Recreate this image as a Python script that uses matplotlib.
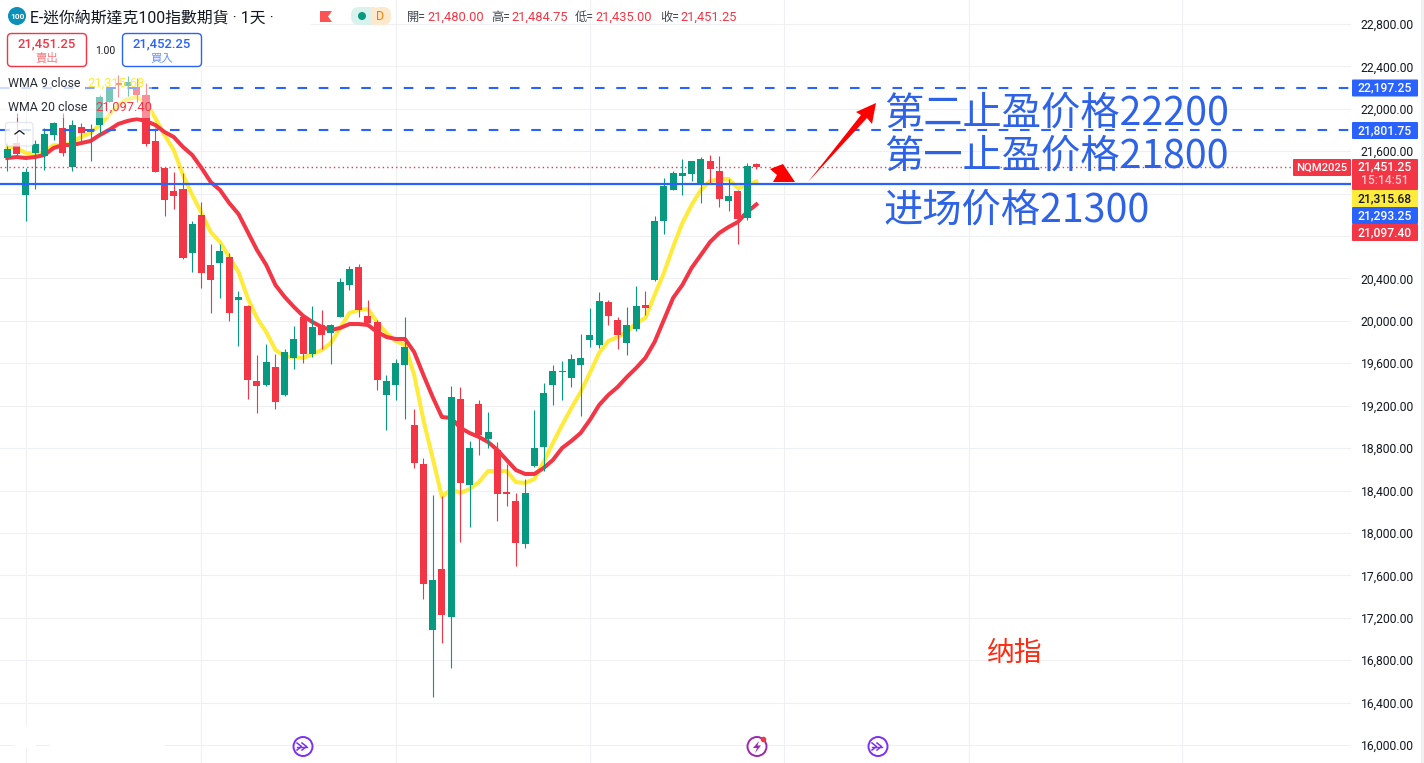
import matplotlib
matplotlib.use('Agg')
import numpy as np
import matplotlib.pyplot as plt
from matplotlib.patches import Rectangle, FancyBboxPatch, Circle, Polygon

plt.rcParams['font.family'] = ['Roboto', 'Noto Sans CJK TC', 'DejaVu Sans']

# OHLC diario
opens = [21536, 21677, 21187, 21583, 21555, 21753, 21819, 21451, 21828, 21781, 21847, 22064,
         22243, 22215, 22205, 22130, 21696, 21442, 21225, 21244, 20640, 21000, 20527, 20546,
         20602, 20197, 20140, 19433, 19395, 19565, 19301, 19650, 20036, 19687, 19961, 19885,
         20036, 20338, 20508, 20046, 19989, 19301, 19395, 19584, 19018, 18650, 17084, 17660,
         17207, 19263, 18452, 19216, 18886, 18782, 18386, 18301, 17896, 18631, 18810, 19395,
         19518, 19461, 19584, 19819, 19772, 20178, 20008, 19791, 19923, 20150, 20385, 20942,
         21234, 21366, 21385, 21291, 21508, 21413, 21130, 21225, 20970, 21480]
highs = [21677, 21960, 21442, 21706, 21819, 21875, 21960, 21894, 21866, 21857, 22130, 22205,
         22319, 22309, 22290, 22243, 21819, 21442, 21404, 21394, 20942, 21121, 20725, 20725,
         20640, 20282, 20150, 19678, 19782, 19687, 19735, 19951, 20046, 20140, 20102, 19970,
         20404, 20517, 20536, 20197, 20008, 19489, 19640, 20036, 19169, 18706, 18358, 18348,
         19386, 19376, 18867, 19254, 19140, 18857, 18650, 18376, 18509, 19159, 19414, 19584,
         19621, 19687, 19876, 20121, 20272, 20197, 20036, 20131, 20329, 20282, 20989, 21347,
         21413, 21526, 21508, 21545, 21564, 21555, 21338, 21234, 21489, 21484.75]
lows = [21413, 21545, 20942, 21244, 21423, 21706, 21555, 21413, 21687, 21508, 21762, 22064,
        22111, 22121, 22064, 21649, 21404, 20989, 21055, 20583, 20461, 20310, 20074, 20216,
        19999, 19763, 19263, 19131, 19386, 19169, 19291, 19546, 19603, 19659, 19735, 19593,
        20036, 20291, 20036, 19980, 19348, 18971, 19254, 19074, 18612, 17377, 16453, 16962,
        16726, 17914, 18056, 18735, 18801, 18112, 18254, 17688, 17858, 18622, 18584, 19206,
        19254, 19376, 19103, 19754, 19744, 19961, 19735, 19678, 19904, 20055, 20376, 20819,
        21234, 21187, 21319, 21111, 21291, 21074, 21036, 20725, 20951, 21435]
closes = [21621, 21574, 21404, 21668, 21762, 21866, 21583, 21847, 21772, 21809, 22111, 22196,
          22224, 22253, 22130, 21668, 21404, 21140, 21177, 20593, 20913, 20451, 20385, 20659,
          20074, 20225, 19442, 19386, 19612, 19235, 19706, 19829, 19687, 19942, 19867, 19961,
          20366, 20489, 20102, 19980, 19442, 19433, 19603, 19753, 18659, 17518, 17556, 17226,
          19282, 18471, 18801, 18923, 18952, 18367, 18367, 17905, 18376, 18801, 19320, 19527,
          19527, 19640, 19650, 19867, 20187, 20046, 19867, 19961, 20140, 20121, 20942, 21272,
          21394, 21394, 21508, 21526, 21432, 21149, 21177, 20961, 21460, 21451.25]

wma9 = [21640, 21630, 21583, 21574, 21592, 21658, 21649, 21687, 21734, 21772, 21847, 21941,
        22036, 22092, 22111, 22055, 21913, 21753, 21611, 21376, 21187, 21017, 20838, 20744,
        20602, 20461, 20216, 20027, 19895, 19725, 19669, 19659, 19650, 19687, 19725, 19791,
        19933, 20074, 20102, 20112, 19989, 19885, 19810, 19772, 19489, 19065, 18706, 18339,
        18414, 18376, 18414, 18480, 18584, 18584, 18584, 18480, 18471, 18508, 18669, 18848,
        19018, 19178, 19329, 19508, 19697, 19810, 19848, 19895, 19980, 20027, 20244, 20451,
        20697, 20923, 21093, 21234, 21319, 21338, 21338, 21253, 21281, 21315.68]
wma20 = [21536, 21545, 21536, 21545, 21564, 21630, 21658, 21658, 21677, 21696, 21753, 21800,
         21857, 21885, 21904, 21885, 21847, 21781, 21734, 21640, 21564, 21442, 21309, 21234,
         21111, 21008, 20838, 20668, 20527, 20338, 20225, 20131, 20046, 19989, 19942, 19914,
         19933, 19970, 19970, 19961, 19895, 19848, 19829, 19829, 19706, 19489, 19282, 19093,
         19084, 18990, 18942, 18905, 18857, 18782, 18688, 18593, 18556, 18556, 18612, 18688,
         18801, 18867, 18942, 19065, 19206, 19301, 19376, 19470, 19555, 19650, 19801, 20008,
         20216, 20338, 20499, 20621, 20744, 20829, 20885, 20932, 21027, 21097.40]

price_ticks = list(range(16000, 23200, 400))
hidden_ticks = [20800, 21200]
date_ticks = [2, 21, 42, 63, 84, 104, 127]

last_price = 21451.25
entry_price = 21293.25
stop1_price = 21801.75
stop2_price = 22197.25

GREEN = '#089981'
RED = '#f23645'
BLUE = '#2962ff'
YELLOW = '#ffeb3b'
GRID = '#eff0f3'
TEXT = '#131722'
W, H = 1424, 763

fig = plt.figure(figsize=(W / 100, H / 100), dpi=100, facecolor='white')
ax = fig.add_axes([0, 0, 1351 / W, 1])
ax.set_xlim(-0.79, -0.79 + 1351 / 9.247)
ax.set_ylim(15830, 23026)

idx = np.arange(len(opens))
o = np.array(opens, dtype=float)
c = np.array(closes, dtype=float)
colors = [GREEN if b >= a else RED for a, b in zip(opens, closes)]

ax.plot(idx, wma9, color=YELLOW, lw=2.9, zorder=2, solid_joinstyle='round')
ax.plot(idx, wma20, color=RED, lw=2.9, zorder=2.1, solid_joinstyle='round')
ax.vlines(idx, lows, highs, colors=colors, linewidth=0.8, zorder=3)
ax.bar(idx, np.abs(c - o), bottom=np.minimum(o, c), width=0.76, color=colors,
       linewidth=0, zorder=3.1, antialiased=False)

ax.axhline(last_price, color=RED, lw=1.0, ls=(0, (1, 2.2)), zorder=3.5)
ax.axhline(entry_price, color=BLUE, lw=1.6, zorder=4)
for p in [stop1_price, stop2_price]:
    ax.axhline(p, color=BLUE, lw=1.5, ls=(0, (4.6, 5.6)), zorder=4)

ax.set_yticks(price_ticks)
ax.set_yticklabels(['' if p in hidden_ticks else f'{p:,.2f}' for p in price_ticks])
ax.set_xticks(date_ticks)
ax.set_xticklabels([])
ax.yaxis.tick_right()
ax.tick_params(axis='y', length=0, pad=7, labelsize=8.7, labelcolor=TEXT)
ax.tick_params(axis='x', length=0)
ax.grid(True, color=GRID, lw=0.8)
ax.set_axisbelow(True)
for s in ax.spines.values():
    s.set_visible(False)

# capa de interfaz en pixeles
ui = fig.add_axes([0, 0, 1, 1], facecolor='none')
ui.set_xlim(0, W)
ui.set_ylim(H, 0)
ui.axis('off')


def box(x0, y0, x1, y1, fc, ec='none', r=2, lw=1.0, alpha=None, z=5):
    ui.add_patch(FancyBboxPatch((x0, y0), x1 - x0, y1 - y0,
                                boxstyle=f'round,pad=0,rounding_size={r}',
                                fc=fc, ec=ec, lw=lw, alpha=alpha, zorder=z))


# fondo de cabecera y atenuado de la leyenda
ui.add_patch(Rectangle((0, 0), 311, 30, fc='white', ec='none', zorder=1))
ui.add_patch(Rectangle((0, 30), 205, 40, fc='white', ec='none', zorder=1))
ui.add_patch(Rectangle((0, 72), 152, 46, fc='white', ec='none', alpha=0.45, zorder=1))
ui.add_patch(Rectangle((0, 76), 80, 16, fc='white', ec='none', alpha=0.6, zorder=1))
ui.add_patch(Rectangle((15, 726), 21, 22, fc='white', ec='none', zorder=1))
ui.add_patch(Rectangle((50, 743), 115, 5, fc='white', ec='none', zorder=1))
ui.add_patch(Rectangle((1421, 0), 3, H, fc='#f0f1f3', ec='none', zorder=1))

# cabecera
ui.add_patch(Circle((17, 16), 9, fc='#0c8fb8', ec='none', zorder=5))
ui.text(17, 16.5, '100', color='white', fontsize=6, fontweight='bold', ha='center', va='center', zorder=6)
ui.text(30, 18, 'E-迷你納斯達克100指數期貨 · 1天 ·', color=TEXT, fontsize=11.4, va='center', zorder=6)
ui.add_patch(Polygon([(320, 11), (332, 11), (328, 16.5), (332, 22), (320, 22)], fc='#ff5252', ec='none', zorder=5))
box(351, 7, 376, 25, '#daf2ed', r=8)
box(372, 7, 391, 25, '#ffe8cc', r=8)
ui.add_patch(Rectangle((371, 7), 4, 18, fc='#ffe8cc', ec='none', zorder=5))
ui.add_patch(Circle((362, 16), 4, fc=GREEN, ec='none', zorder=6))
ui.text(380, 16.5, 'D', color='#f57c00', fontsize=9, ha='center', va='center', zorder=6)

ohlc_x = [407, 491, 575, 660]
ohlc_names = ['開=', '高=', '低=', '收=']
ohlc_vals = ['21,480.00', '21,484.75', '21,435.00', '21,451.25']
for x, n, v in zip(ohlc_x, ohlc_names, ohlc_vals):
    ui.text(x, 17, n, color='#434651', fontsize=8.8, va='center', zorder=6)
    ui.text(x + 20.5, 17, v, color=RED, fontsize=9.3, va='center', zorder=6)

# botones de venta y compra
box(7.5, 33.5, 86.5, 66.5, 'white', ec=RED, r=4)
ui.text(47, 43.5, '21,451.25', color=RED, fontsize=9.4, fontweight='medium', ha='center', va='center', zorder=6)
ui.text(47, 58, '賣出', color='#f77c80', fontsize=8.2, ha='center', va='center', zorder=6)
ui.text(105, 50.5, '1.00', color=TEXT, fontsize=7.4, ha='center', va='center', zorder=6)
box(122.5, 33.5, 201.5, 66.5, 'white', ec=BLUE, r=4)
ui.text(162, 43.5, '21,452.25', color=BLUE, fontsize=9.4, fontweight='medium', ha='center', va='center', zorder=6)
ui.text(162, 58, '買入', color='#6b93ff', fontsize=8.2, ha='center', va='center', zorder=6)

# leyenda
ui.text(8, 83.5, 'WMA 9 close', color='#2a2e39', fontsize=8.9, va='center', zorder=6)
ui.text(87, 83.5, '21,315.68', color=YELLOW, fontsize=9.4, va='center', zorder=6)
ui.text(8, 107.5, 'WMA 20 close', color='#2a2e39', fontsize=8.9, va='center', zorder=6)
ui.text(95, 107.5, '21,097.40', color=RED, fontsize=9.4, va='center', zorder=6)
box(5.5, 122.5, 33, 146, 'white', ec='#e0e3eb', r=3, alpha=0.8)
ui.plot([15, 19.5, 24], [134, 130.5, 134], color=TEXT, lw=0.9, zorder=6)

# etiquetas de precio apiladas como en la escala derecha
tag_prices = [stop2_price, stop1_price, wma9[-1], entry_price, wma20[-1]]
tag_fill = [BLUE, BLUE, YELLOW, BLUE, RED]
tag_text = ['white', 'white', TEXT, 'white', 'white']
tag_y = [88, 130.5, 198.5, 215.5, 232.5]
for p, f, t, y in zip(tag_prices, tag_fill, tag_text, tag_y):
    box(1352, y - 8.5, 1418, y + 8.5, f, r=1)
    ui.text(1385, y + 0.3, f'{p:,.2f}', color=t, fontsize=8.7, fontweight='medium', ha='center', va='center', zorder=6)

box(1352, 159, 1418, 190, RED, r=1)
ui.text(1385, 166.8, f'{last_price:,.2f}', color='white', fontsize=8.7, fontweight='medium', ha='center', va='center', zorder=6)
ui.text(1385, 181, '15:14:51', color='#fbc4c7', fontsize=8.7, fontweight='medium', ha='center', va='center', zorder=6)
box(1293, 159, 1351, 176, RED, r=1)
ui.text(1322, 167.3, 'NQM2025', color='white', fontsize=8.1, fontweight='medium', ha='center', va='center', zorder=6)

# anotaciones del autor
note_color = '#2e63e8'
notes = ['第二止盈价格22200', '第一止盈价格21800', '进场价格21300']
note_y = [114, 157, 211]
for s, y in zip(notes, note_y):
    ui.text(884, y, s, color=note_color, fontsize=28.3, va='center', family=['Noto Sans CJK SC'], zorder=7)
ui.text(987, 653, '纳指', color='#ff2a12', fontsize=20, va='center', family=['Noto Sans CJK SC'],
        fontweight='light', zorder=7)

arrow_big = [(808, 182), (861, 115), (856, 112), (876, 103), (872, 124), (867, 118)]
arrow_small = [(770, 169), (783, 164), (795, 182), (773, 182), (777, 175)]
ui.add_patch(Polygon(arrow_big, fc='#ff0000', ec='none', zorder=7))
ui.add_patch(Polygon(arrow_small, fc='#ff0000', ec='none', zorder=7))

# iconos de eventos
for x, col in [(303, '#7b2ff7'), (757, '#9c27b0'), (878, '#7b2ff7')]:
    ui.add_patch(Circle((x, 746.5), 9.5, fc='white', ec=col, lw=1.4, zorder=6))
for x in [303, 878]:
    ui.plot([x - 6, x - 1.5, x - 6], [743, 746.5, 750], color='#7b2ff7', lw=1.1, zorder=7)
    ui.plot([x - 1, x + 3.5, x - 1], [743, 746.5, 750], color='#7b2ff7', lw=1.1, zorder=7)
    ui.plot([x - 6, x + 3.5], [746.5, 746.5], color='#7b2ff7', lw=1.0, zorder=7)
ui.add_patch(Polygon([(759, 741), (753, 748), (757, 748), (755, 753), (761, 745.5), (757.5, 745.5)],
                     fc='#9c27b0', ec='none', zorder=7))
ui.add_patch(Circle((763.5, 739.5), 2.8, fc=RED, ec='none', zorder=8))

fig.savefig('out.png', dpi=100)
